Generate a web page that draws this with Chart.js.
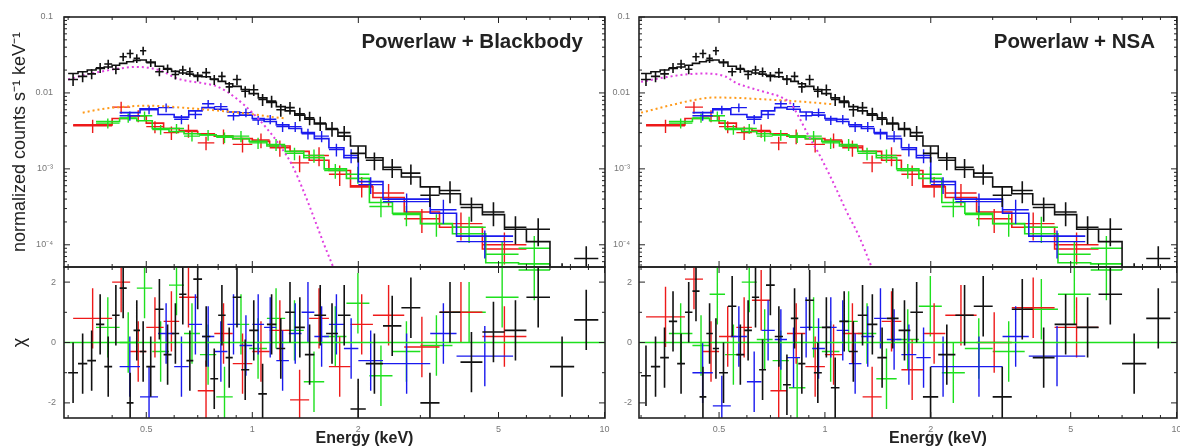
<!DOCTYPE html>
<html>
<head>
<meta charset="utf-8">
<script src="https://cdn.jsdelivr.net/npm/chart.js@4.4.0/dist/chart.umd.min.js"></script>
<style>
  body { margin: 0; background: #fff; width: 1180px; height: 448px; overflow: hidden; position: relative; }
  canvas { position: absolute; }
</style>
</head>
<body>
<canvas id="tl" width="612" height="272" style="left:0;top:0"></canvas>
<canvas id="bl" width="612" height="186" style="left:0;top:262px"></canvas>
<canvas id="tr" width="580" height="272" style="left:600px;top:0"></canvas>
<canvas id="br" width="580" height="186" style="left:600px;top:262px"></canvas>
<script>
// axis ticks
var tickX = [0.5, 1, 2, 5, 10];
var tickXLabels = ['0.5', '1', '2', '5', '10'];
var minorX = [0.3, 0.4, 0.6, 0.7, 0.8, 0.9, 3, 4, 6, 7, 8, 9];
var tickY = [1e-4, 1e-3, 0.01, 0.1];
var tickYLabels = ['10\u207B\u2074', '10\u207B\u00B3', '0.01', '0.1'];
var minorYMult = [2, 3, 4, 5, 6, 7, 8, 9];
var tickChi = [-2, 0, 2];
var tickChiLabels = ['-2', '0', '2'];
var minorChi = [-1, 1];

// black spectrum (bin edges in keV, counts s-1 keV-1)
var blackEdges = [0.30, 0.32, 0.34, 0.36, 0.38, 0.40, 0.42, 0.44, 0.46, 0.48, 0.50, 0.53, 0.56, 0.59, 0.62, 0.65,
  0.68, 0.72, 0.76, 0.80, 0.84, 0.88, 0.93, 0.98, 1.04, 1.10, 1.17, 1.24, 1.32, 1.41, 1.50, 1.62, 1.75, 1.90,
  2.10, 2.35, 2.65, 3.00, 3.40, 3.90, 4.50, 5.20, 6.00, 7.00, 8.20, 9.60];
var blackModel = [0.0180, 0.0190, 0.0200, 0.0210, 0.0220, 0.0232, 0.0245, 0.0258, 0.0268, 0.0272,
  0.0255, 0.0225, 0.0205, 0.0192, 0.0183, 0.0177, 0.0171, 0.0163, 0.0152, 0.0142,
  0.0132, 0.0122, 0.0111, 0.0098, 0.0086, 0.0075, 0.0066, 0.0058, 0.0051, 0.0045,
  0.0039, 0.0033, 0.0027, 0.0020, 0.0014, 0.00098, 0.00078, 0.00058, 0.00047, 0.00034,
  0.00025, 0.00016, 0.00011, 0.000045, 0.000045];
var blackData = [0.0150, 0.0165, 0.0178, 0.0215, 0.0240, 0.0205, 0.0300, 0.0330, 0.0285, 0.0360,
  0.0250, 0.0190, 0.0210, 0.0175, 0.0200, 0.0190, 0.0165, 0.0185, 0.0150, 0.0165,
  0.0120, 0.0150, 0.0105, 0.0110, 0.0082, 0.0078, 0.0060, 0.0064, 0.0053, 0.0047,
  0.0040, 0.0034, 0.0030, 0.0016, 0.0013, 0.00105, 0.00088, 0.00045, 0.00052, 0.00031,
  0.00027, 0.00017, 0.00016, 0.000038, 0.000066];
var blackErr = [0.18, 0.16, 0.15, 0.15, 0.14, 0.14, 0.13, 0.13, 0.13, 0.13,
  0.12, 0.13, 0.13, 0.14, 0.14, 0.14, 0.14, 0.15, 0.15, 0.15,
  0.16, 0.16, 0.17, 0.17, 0.18, 0.18, 0.19, 0.19, 0.20, 0.20,
  0.21, 0.22, 0.22, 0.24, 0.26, 0.28, 0.30, 0.30, 0.32, 0.35,
  0.35, 0.40, 0.40, 0.50, 0.45];
var blackChiL = [-1.0, -0.7, -0.6, 0.6, -0.8, 0.9, 1.8, -2.0, 0.4, -0.3,
  -0.8, 1.1, -0.4, 0.3, 1.6, -0.6, 2.1, 0.2, -1.2, 0.9,
  -0.5, 1.5, -0.9, 0.4, -1.7, 0.6, -0.2, 1.0, 0.5, -0.4,
  0.9, 0.3, 0.9, -2.2, -0.7, 0.55, 1.15, -2.0, 1.0, -0.65,
  0.35, 0.4, 1.5, -0.8, 0.75];
var blackChiR = [-1.1, -0.8, -0.5, 0.7, -0.7, 1.0, 1.7, -1.8, 0.3, -0.2,
  -1.0, 1.2, -0.4, 0.4, 1.5, -0.9, 1.9, 0.2, -1.4, 0.8,
  -0.7, 1.4, -1.0, 0.5, -1.5, 0.7, -0.3, 0.9, 0.6, -0.5,
  0.8, 0.4, 1.0, -1.8, -0.4, 0.9, 1.2, -1.8, 1.1, -0.5,
  0.6, 0.5, 1.6, -0.7, 0.8];

// red spectrum
var redEdges = [0.31, 0.40, 0.45, 0.50, 0.56, 0.62, 0.70, 0.78, 0.88, 1.00, 1.12, 1.28, 1.45, 1.65, 1.90, 2.20, 2.70, 3.40, 4.50, 6.00];
var redModel = [0.0038, 0.0046, 0.0050, 0.0040, 0.0034, 0.0031, 0.0029, 0.0027, 0.0025, 0.0023,
  0.0020, 0.0017, 0.0013, 0.00095, 0.00058, 0.00042, 0.00027, 0.00017, 0.000088];
var redData = [0.0037, 0.0065, 0.0050, 0.0036, 0.0030, 0.0032, 0.0022, 0.0027, 0.0021, 0.0024,
  0.0019, 0.0012, 0.0015, 0.00085, 0.00060, 0.00048, 0.00022, 0.00019, 0.00010];
var redErr = [0.20, 0.18, 0.18, 0.18, 0.20, 0.20, 0.20, 0.22, 0.22, 0.22, 0.24, 0.25, 0.28, 0.30, 0.30, 0.32, 0.35, 0.40, 0.45];
var redChiL = [0.8, 2.0, -0.3, 0.5, 0.7, 1.5, -1.6, 0.3, -0.7, -0.3, 0.4, -1.9, 0.8, -0.8, 0.6, 0.9, -0.15, 1.0, 0.2];
var redChiR = [0.85, 2.1, -0.3, 0.2, 0.5, 1.4, -1.6, 0.3, -0.8, -0.4, 0.3, -1.8, 0.7, -0.9, 0.3, 0.9, 0.0, 1.15, 0.5];

// green spectrum
var greenEdges = [0.36, 0.42, 0.47, 0.52, 0.58, 0.64, 0.71, 0.79, 0.88, 0.98, 1.10, 1.24, 1.40, 1.60, 1.85, 2.15, 2.50, 3.00, 3.70, 4.60, 5.70, 7.00];
var greenModel = [0.0042, 0.0046, 0.0043, 0.0034, 0.0031, 0.0029, 0.0028, 0.0027, 0.0025, 0.0023,
  0.0020, 0.0017, 0.0014, 0.0010, 0.00075, 0.00036, 0.00026, 0.00019, 0.00014, 0.000058, 0.000056];
var greenData = [0.0040, 0.0047, 0.0050, 0.0033, 0.0034, 0.0027, 0.0028, 0.0026, 0.0027, 0.0022,
  0.0021, 0.0016, 0.0015, 0.00095, 0.00085, 0.00032, 0.00025, 0.00019, 0.00017, 0.000075, 0.000090];
var greenErr = [0.15, 0.14, 0.14, 0.15, 0.15, 0.15, 0.16, 0.16, 0.17, 0.17, 0.18, 0.19, 0.20, 0.22, 0.25, 0.28, 0.30, 0.33, 0.38, 0.45, 0.45];
var greenChiL = [0.5, 0.0, 1.8, -0.3, 1.9, 0.3, -0.4, -1.8, 0.6, -0.2, 0.8, 0.4, -1.3, 0.2, 1.3, -1.1, -0.3, -0.1, 1.0, 1.5, 2.4];
var greenChiR = [0.3, -0.1, 1.6, -0.4, 2.0, 0.1, -0.6, -1.5, 0.5, -0.3, 0.7, 0.3, -1.2, 0.1, 1.2, -1.0, -0.2, -0.3, 1.1, 1.6, 2.4];

// blue spectrum
var blueEdges = [0.42, 0.48, 0.54, 0.60, 0.66, 0.72, 0.78, 0.85, 0.92, 1.00, 1.08, 1.17, 1.27, 1.38, 1.50, 1.65, 1.82, 2.00, 2.35, 3.20, 3.80, 5.50];
var blueModel = [0.0055, 0.0062, 0.0052, 0.0048, 0.0058, 0.0064, 0.0061, 0.0056, 0.0051, 0.0046,
  0.0042, 0.0038, 0.0034, 0.0030, 0.0025, 0.0019, 0.0014, 0.00068, 0.00040, 0.00026, 0.00013];
var blueData = [0.0050, 0.0060, 0.0064, 0.0045, 0.0052, 0.0072, 0.0066, 0.0050, 0.0055, 0.0044,
  0.0045, 0.0036, 0.0036, 0.0029, 0.0027, 0.0018, 0.0015, 0.00062, 0.00037, 0.00029, 0.00011];
var blueErr = [0.14, 0.13, 0.13, 0.14, 0.13, 0.12, 0.12, 0.13, 0.13, 0.14, 0.14, 0.15, 0.15, 0.16, 0.17, 0.19, 0.21, 0.25, 0.28, 0.35, 0.40];
var blueChiL = [-0.8, -1.8, 0.3, -0.8, 0.6, 0.2, -0.3, 0.6, -0.1, 0.6, 0.5, -0.6, 0.3, 1.0, 0.2, 0.6, -0.2, -0.6, -0.7, 0.3, -0.45];
var blueChiR = [-1.0, -2.1, 0.2, -1.3, 0.4, 0.1, -0.5, 0.5, -0.2, 0.5, 0.4, -0.7, 0.2, 0.8, 0.1, -0.4, -0.5, -0.8, -0.8, 0.2, -0.45];

// model components
var bbE = [0.30, 0.33, 0.37, 0.42, 0.47, 0.52, 0.56, 0.60, 0.65, 0.72, 0.80, 0.90, 1.00, 1.10, 1.20, 1.30, 1.40, 1.50, 1.60, 1.70];
var bbY = [0.0150, 0.0170, 0.0190, 0.0210, 0.0220, 0.0210, 0.0190, 0.0160, 0.0145, 0.0135, 0.0120, 0.0085, 0.0055, 0.0034, 0.0020, 0.0011, 0.00050, 0.00022, 0.00010, 0.00005];
var plE = [0.33, 0.38, 0.44, 0.50, 0.58, 0.66, 0.75, 0.85, 0.95, 1.05, 1.15, 1.25];
var plY = [0.0055, 0.0062, 0.0066, 0.0068, 0.0066, 0.0063, 0.0060, 0.0057, 0.0054, 0.0051, 0.0048, 0.0046];
var nsaE = [0.30, 0.35, 0.40, 0.46, 0.52, 0.56, 0.62, 0.69, 0.75, 0.80, 0.85, 0.90, 0.96, 1.02, 1.07, 1.15, 1.25, 1.36];
var nsaY = [0.0140, 0.0160, 0.0175, 0.0180, 0.0165, 0.0135, 0.0115, 0.0100, 0.0088, 0.0072, 0.0045, 0.0027, 0.0016, 0.00092, 0.00058, 0.00028, 0.00013, 0.00005];
var pl2E = [0.30, 0.36, 0.42, 0.48, 0.56, 0.65, 0.75, 0.85, 0.95, 1.05];
var pl2Y = [0.0055, 0.0068, 0.0080, 0.0087, 0.0086, 0.0083, 0.0080, 0.0077, 0.0074, 0.0071];

var BLACK = '#111111', RED = '#ee1a1a', GREEN = '#1ee01e', BLUE = '#1a1aee', MAGENTA = '#e040e0', ORANGE = '#ff9a1a';

Chart.defaults.font.family = '"Liberation Sans", Arial, sans-serif';

function crossSet(edges, vals, errs, color, w) {
  var pts = [];
  vals.forEach(function (v, i) {
    var lo = edges[i], hi = edges[i + 1], c = Math.sqrt(lo * hi);
    pts.push({x: lo, y: v}, {x: hi, y: v}, {x: c, y: null},
             {x: c, y: v - errs[i]}, {x: c, y: v + errs[i]}, {x: c, y: null});
  });
  return {data: pts, borderColor: color, borderWidth: w || 1.4, pointRadius: 0, spanGaps: false};
}
function specSet(edges, vals, frac, color) {
  return crossSet(edges, vals, frac.map(function (f, i) { return f * vals[i]; }), color, color === BLACK ? 1.6 : 1.4);
}
function chiSet(edges, chi, color) {
  return crossSet(edges, chi, chi.map(function () { return 1; }), color, color === BLACK ? 1.6 : 1.4);
}
function stepSet(edges, vals, color) {
  var pts = [];
  vals.forEach(function (v, i) { pts.push({x: edges[i], y: v}, {x: edges[i + 1], y: v}); });
  return {data: pts, borderColor: color, borderWidth: 1.6, pointRadius: 0};
}
function curveSet(xs, ys, color) {
  return {data: xs.map(function (x, i) { return {x: x, y: ys[i]}; }), borderColor: color,
    borderWidth: 2, borderDash: [2, 3], pointRadius: 0, tension: 0.3, cubicInterpolationMode: 'monotone'};
}

// frame with inward tick marks on all four sides
var framePlugin = {
  id: 'frame',
  afterDatasetsDraw: function (chart, args, o) {
    var ctx = chart.ctx, a = chart.chartArea, xs = chart.scales.x, ys = chart.scales.y;
    ctx.save();
    ctx.strokeStyle = '#222';
    ctx.lineWidth = 1;
    ctx.beginPath();
    function xt(v, len) {
      var p = xs.getPixelForValue(v);
      if (p < a.left || p > a.right) return;
      ctx.moveTo(p, a.top); ctx.lineTo(p, a.top + len);
      ctx.moveTo(p, a.bottom); ctx.lineTo(p, a.bottom - len);
    }
    function yt(v, len) {
      var p = ys.getPixelForValue(v);
      if (p < a.top || p > a.bottom) return;
      ctx.moveTo(a.left, p); ctx.lineTo(a.left + len, p);
      ctx.moveTo(a.right, p); ctx.lineTo(a.right - len, p);
    }
    tickX.forEach(function (v) { xt(v, 6); });
    minorX.forEach(function (v) { xt(v, 3); });
    o.yMajor.forEach(function (v) { yt(v, 6); });
    o.yMinor.forEach(function (v) { yt(v, 3); });
    ctx.stroke();
    ctx.lineWidth = 1.6;
    ctx.strokeRect(a.left, a.top, a.right - a.left, a.bottom - a.top);
    ctx.restore();
  }
};
var textPlugin = {
  id: 'texts',
  afterDraw: function (chart, args, o) {
    var ctx = chart.ctx, a = chart.chartArea;
    ctx.save();
    ctx.fillStyle = '#222';
    if (o.title) {
      ctx.font = 'bold 20.5px "Liberation Sans", Arial, sans-serif';
      ctx.textAlign = 'right'; ctx.textBaseline = 'middle';
      ctx.fillText(o.title, a.right - 22, a.top + 25);
    }
    if (o.xTitle) {
      ctx.font = 'bold 16px "Liberation Sans", Arial, sans-serif';
      ctx.textAlign = 'center'; ctx.textBaseline = 'middle';
      ctx.fillText(o.xTitle, (a.left + a.right) / 2 + 30, a.bottom + 21);
    }
    ctx.restore();
  }
};

var minorY = [];
[1e-5, 1e-4, 1e-3, 0.01].forEach(function (d) { minorYMult.forEach(function (m) { minorY.push(d * m); }); });

function noPad(s) { s.paddingLeft = 0; s.paddingRight = 0; s.paddingTop = 0; s.paddingBottom = 0; }

function panel(id, p) {
  var xScale = {
    type: 'logarithmic', min: p.xMin, max: 10.03, display: p.showX,
    grid: {display: false, drawTicks: false}, border: {display: false},
    afterBuildTicks: function (s) { s.ticks = tickX.map(function (v) { return {value: v}; }); },
    ticks: {autoSkip: false, maxRotation: 0, padding: 6, color: '#777', font: {size: 9},
      callback: function (v, i) { return tickXLabels[i]; }}
  };
  if (p.showX) xScale.afterFit = function (s) { s.height = 30; noPad(s); };
  var yScale = p.chi ? {type: 'linear', min: -2.5, max: 2.5} : {type: 'logarithmic', min: 5.1e-5, max: 0.1};
  var yT = p.chi ? tickChi : tickY, yL = p.chi ? tickChiLabels : tickYLabels;
  yScale.grid = {display: false, drawTicks: false};
  yScale.border = {display: false};
  yScale.afterBuildTicks = function (s) { s.ticks = yT.map(function (v) { return {value: v}; }); };
  yScale.afterFit = function (s) { s.width = p.yWidth; noPad(s); };
  yScale.ticks = {autoSkip: false, padding: p.yPad, color: '#777', font: {size: 9},
    callback: function (v, i) { return yL[i]; }};
  yScale.title = {display: !!p.yTitle, text: p.yTitle || '', color: '#222', font: {size: 18}, padding: {top: 9, bottom: 0}};
  return new Chart(document.getElementById(id), {
    type: 'line',
    data: {datasets: p.datasets},
    plugins: [framePlugin, textPlugin],
    options: {
      responsive: false, animation: false, events: [],
      layout: {padding: p.padding},
      plugins: {
        legend: {display: false}, tooltip: {enabled: false},
        frame: {yMajor: yT, yMinor: p.chi ? minorChi : minorY},
        texts: {title: p.title, xTitle: p.showX ? 'Energy (keV)' : null}
      },
      scales: {x: xScale, y: yScale}
    }
  });
}

function topSets(comp1E, comp1Y, comp2E, comp2Y) {
  return [
    stepSet(blackEdges, blackModel, BLACK),
    specSet(blackEdges, blackData, blackErr, BLACK),
    curveSet(comp1E, comp1Y, MAGENTA),
    curveSet(comp2E, comp2Y, ORANGE),
    stepSet(blueEdges, blueModel, BLUE),
    specSet(blueEdges, blueData, blueErr, BLUE),
    stepSet(greenEdges, greenModel, GREEN),
    specSet(greenEdges, greenData, greenErr, GREEN),
    stepSet(redEdges, redModel, RED),
    specSet(redEdges, redData, redErr, RED)
  ];
}
function zeroLine() {
  return {data: [{x: 0.28, y: 0}, {x: 10.5, y: 0}], borderColor: GREEN, borderWidth: 1.6, pointRadius: 0};
}

panel('tl', {xMin: 0.292, showX: false, yWidth: 64, yPad: 11, yTitle: 'normalized counts s\u207B\u00B9 keV\u207B\u00B9',
  padding: {left: 0, top: 17, right: 7, bottom: 5}, title: 'Powerlaw + Blackbody',
  datasets: topSets(bbE, bbY, plE, plY)});
panel('bl', {xMin: 0.292, showX: true, chi: true, yWidth: 64, yPad: 8, yTitle: '\u03C7',
  padding: {left: 0, top: 5, right: 7, bottom: 0},
  datasets: [chiSet(blackEdges, blackChiL, BLACK), zeroLine(), chiSet(blueEdges, blueChiL, BLUE),
    chiSet(redEdges, redChiL, RED), chiSet(greenEdges, greenChiL, GREEN)]});
panel('tr', {xMin: 0.296, showX: false, yWidth: 39, yPad: 9,
  padding: {left: 0, top: 17, right: 3, bottom: 5}, title: 'Powerlaw + NSA',
  datasets: topSets(nsaE, nsaY, pl2E, pl2Y)});
panel('br', {xMin: 0.296, showX: true, chi: true, yWidth: 39, yPad: 7,
  padding: {left: 0, top: 5, right: 3, bottom: 0},
  datasets: [chiSet(blackEdges, blackChiR, BLACK), zeroLine(), chiSet(blueEdges, blueChiR, BLUE),
    chiSet(redEdges, redChiR, RED), chiSet(greenEdges, greenChiR, GREEN)]});
</script>
</body>
</html>
